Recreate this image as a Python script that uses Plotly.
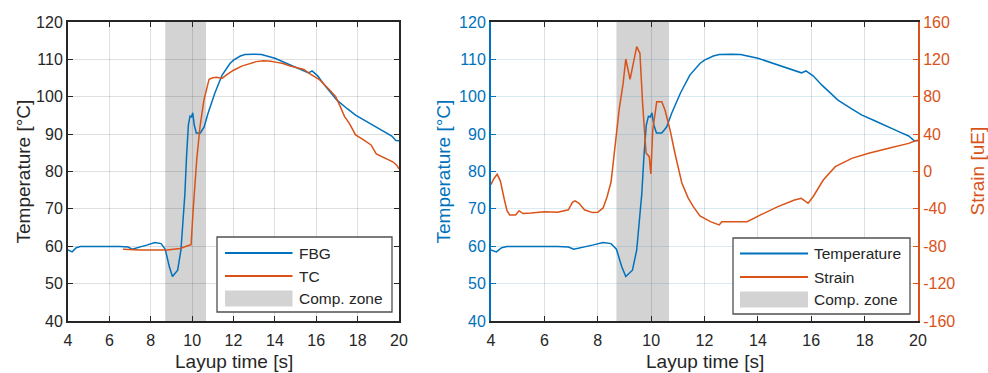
import plotly.graph_objects as go

# ---------------- data ----------------
fbg_time = [4.0, 4.2, 4.4, 4.6, 5.0, 5.5, 6.0, 6.5, 6.9, 7.1, 7.4, 7.8, 8.2, 8.5, 8.7,
            8.9, 9.05, 9.2, 9.3, 9.46, 9.56, 9.65, 9.73, 9.82, 9.9, 9.97, 10.03, 10.1,
            10.2, 10.4, 10.58, 10.77, 11.1, 11.45, 11.83, 12.0, 12.33, 12.55, 13.0,
            13.35, 14.0, 14.75, 15.3, 15.63, 15.8, 16.07, 16.4, 17.0, 17.5, 17.9, 18.4,
            18.9, 19.3, 19.65, 19.85, 20.0]
fbg_temp = [59.0, 58.5, 59.6, 59.9, 59.9, 60.0, 59.9, 59.9, 59.8, 59.2, 59.6, 60.3, 61.0, 60.7, 59.2,
            54.5, 51.9, 52.8, 53.6, 59.0, 66.0, 74.0, 84.0, 92.5, 94.8, 94.6, 95.7, 92.5,
            90.3, 90.3, 91.9, 95.6, 101.0, 105.8, 108.9, 109.8, 110.9, 111.3, 111.4,
            111.3, 110.3, 108.5, 107.1, 106.4, 106.9, 105.6, 103.1, 99.1, 96.8, 95.1, 93.5,
            92.0, 90.6, 89.5, 88.3, 88.2]

tc_time = [6.66, 7.5, 8.78, 9.42, 9.82, 9.95, 10.06, 10.22, 10.38, 10.57, 10.82, 11.0, 11.2,
           11.44, 11.7, 12.0, 12.4, 12.8, 13.1, 13.45, 13.8, 14.1, 14.4, 14.7, 15.0, 15.4,
           15.7, 16.17, 16.65, 16.94, 17.15, 17.37, 17.6, 17.9, 18.25, 18.65, 18.9, 19.38,
           19.7, 19.9, 20.0]
tc_temp = [59.2, 59.0, 59.0, 59.4, 60.2, 60.4, 70.6, 83.0, 92.0, 99.1, 104.7, 105.1, 105.2,
           104.9, 106.0, 107.1, 108.2, 108.9, 109.4, 109.6, 109.5, 109.2, 108.9, 108.3, 107.9, 107.3,
           106.1, 104.5, 101.8, 100.0, 97.5, 94.7, 92.9, 89.8, 88.6, 87.1, 84.7, 83.5,
           82.6, 81.6, 80.7]

strain_time = [4.0, 4.1, 4.23, 4.35, 4.5, 4.6, 4.7, 4.92, 5.05, 5.2, 5.5, 6.0, 6.5, 6.9, 7.05,
               7.15, 7.3, 7.5, 7.8, 8.0, 8.2, 8.35, 8.5, 8.65, 8.8, 8.95, 9.05, 9.21, 9.3,
               9.46, 9.58, 9.68, 9.81, 9.93, 9.99, 10.06, 10.21, 10.4, 10.52, 10.71, 10.89,
               11.15, 11.39, 11.58, 11.83, 12.22, 12.55, 12.65, 13.23, 13.6, 14.1, 14.75,
               15.37, 15.63, 15.88, 16.07, 16.45, 16.9, 17.52, 18.15, 18.9, 19.65, 20.0]
strain_ue = [-14, -8, -3, -10, -30, -42, -46.5, -46.5, -42, -45, -44.5, -43, -43.7, -41, -33,
             -31.5, -34, -41, -44, -43.7, -39, -27, -11, 26.6, 66, 94, 120.4, 98.7, 110,
             133.6, 126.5, 73.3, 19.8, 15.9, -2.7, 44.4, 74.7, 74.7, 65.8, 44.4, 19.8,
             -12.3, -28.4, -37.6, -47.6, -53.7, -57.2, -53.7, -53.7, -53.7, -46.5, -37.6,
             -30.5, -28.7, -34, -27, -9.1, 5.2, 14.1, 19.5, 24.8, 30.1, 33.7]

zone_start = 8.7
zone_end = 10.67

x_ticks = [4, 6, 8, 10, 12, 14, 16, 18, 20]
temp_ticks = [40, 50, 60, 70, 80, 90, 100, 110, 120]
strain_ticks = [-160, -120, -80, -40, 0, 40, 80, 120, 160]
strain_tick_labels = ["-160", "-120", "-80", "-40", "0", "40", "80", "120", "160"]

left_legend_labels = ["FBG", "TC", "Comp. zone"]
right_legend_labels = ["Temperature", "Strain", "Comp. zone"]

# ---------------- style ----------------
W, H = 988, 373
BLUE = "#0072BD"
ORANGE = "#D95319"
DARK = "#262626"
ZONE = "#D3D3D3"
FONT = "Arial, Liberation Sans, sans-serif"
TICK_SIZE = 16
TITLE_SIZE = 19
LEG_SIZE = 15.5


def px(x):
    return x / W


def py(y):
    return 1 - y / H


L_DOM = [px(68), px(399)]
R_DOM = [px(491), px(918)]
Y_DOM = [py(321), py(22)]

fig = go.Figure()

fig.add_trace(go.Scatter(x=fbg_time, y=fbg_temp, mode="lines", line=dict(color=BLUE, width=1.5),
                         xaxis="x", yaxis="y", showlegend=False))
fig.add_trace(go.Scatter(x=tc_time, y=tc_temp, mode="lines", line=dict(color=ORANGE, width=1.5),
                         xaxis="x", yaxis="y", showlegend=False))
fig.add_trace(go.Scatter(x=fbg_time, y=fbg_temp, mode="lines", line=dict(color=BLUE, width=1.5),
                         xaxis="x2", yaxis="y2", showlegend=False))
fig.add_trace(go.Scatter(x=strain_time, y=strain_ue, mode="lines", line=dict(color=ORANGE, width=1.5),
                         xaxis="x2", yaxis="y3", showlegend=False))

# compression zones
for xr, yr in (("x", "y"), ("x2", "y2")):
    fig.add_shape(type="rect", xref=xr, yref=yr + " domain", x0=zone_start, x1=zone_end,
                  y0=0, y1=1, fillcolor=ZONE, line=dict(width=0), layer="below")

GRID_GRAY = "rgba(38,38,38,0.15)"
GRID_BLUE = "rgba(0,114,189,0.15)"

xcommon = dict(range=[4, 20], tickvals=x_ticks, ticks="inside", ticklen=5, tickwidth=1.3,
               showline=True, linewidth=2, linecolor=DARK, tickcolor=DARK, mirror="ticks",
               showgrid=True, gridcolor=GRID_GRAY, gridwidth=1, zeroline=False,
               automargin=False,
               tickfont=dict(family=FONT, size=TICK_SIZE, color=DARK), ticklabelstandoff=4)

fig.update_layout(
    width=W, height=H, margin=dict(l=0, r=0, t=0, b=0),
    paper_bgcolor="white", plot_bgcolor="white",
    font=dict(family=FONT, color=DARK),
    xaxis=dict(domain=L_DOM, anchor="y", **xcommon),
    yaxis=dict(domain=Y_DOM, anchor="x", range=[40, 120], tickvals=temp_ticks,
               ticks="inside", ticklen=5, tickwidth=1.3, showline=True, linewidth=2,
               linecolor=DARK, tickcolor=DARK, mirror="ticks", showgrid=True,
               gridcolor=GRID_GRAY, zeroline=False, automargin=False,
               tickfont=dict(family=FONT, size=TICK_SIZE, color=DARK)),
    xaxis2=dict(domain=R_DOM, anchor="y2", **xcommon),
    yaxis2=dict(domain=Y_DOM, anchor="x2", range=[40, 120], tickvals=temp_ticks,
                ticks="inside", ticklen=5, tickwidth=1.3, showline=True, linewidth=2,
                linecolor=BLUE, tickcolor=BLUE, mirror=False, showgrid=True,
                gridcolor=GRID_BLUE, zeroline=False, automargin=False,
                tickfont=dict(family=FONT, size=TICK_SIZE, color=BLUE)),
    yaxis3=dict(overlaying="y2", anchor="x2", side="right", range=[-160, 160],
                tickvals=strain_ticks, ticktext=strain_tick_labels, ticks="inside",
                ticklen=5, tickwidth=1.3,
                showline=True, linewidth=2, linecolor=ORANGE, tickcolor=ORANGE,
                showgrid=False, zeroline=False, automargin=False,
                tickfont=dict(family=FONT, size=TICK_SIZE, color=ORANGE)),
)

# axis titles
ann = []
ann.append(dict(text="Layup time [s]", x=px(233.5), y=py(361), xref="paper", yref="paper",
                showarrow=False, xanchor="center", yanchor="middle",
                font=dict(family=FONT, size=TITLE_SIZE, color=DARK)))
ann.append(dict(text="Layup time [s]", x=px(704.5), y=py(361), xref="paper", yref="paper",
                showarrow=False, xanchor="center", yanchor="middle",
                font=dict(family=FONT, size=TITLE_SIZE, color=DARK)))
ann.append(dict(text="Temperature [°C]", x=px(23), y=py(171.5), xref="paper", yref="paper",
                showarrow=False, xanchor="center", yanchor="middle", textangle=-90,
                font=dict(family=FONT, size=TITLE_SIZE, color=DARK)))
ann.append(dict(text="Temperature [°C]", x=px(443), y=py(171.5), xref="paper", yref="paper",
                showarrow=False, xanchor="center", yanchor="middle", textangle=-90,
                font=dict(family=FONT, size=TITLE_SIZE, color=BLUE)))
ann.append(dict(text="Strain [uE]", x=px(977), y=py(171.5), xref="paper", yref="paper",
                showarrow=False, xanchor="center", yanchor="middle", textangle=-90,
                font=dict(family=FONT, size=TITLE_SIZE, color=ORANGE)))


# manual legends (MATLAB-like)
def add_legend(box, sample_x, text_x, rows, labels):
    x0, y0, x1, y1 = box
    fig.add_shape(type="rect", xref="paper", yref="paper", x0=px(x0), x1=px(x1),
                  y0=py(y1), y1=py(y0), fillcolor="white",
                  line=dict(color="#505050", width=1.3), layer="above")
    colors = [BLUE, ORANGE]
    for i, lab in enumerate(labels):
        yy = rows[i]
        if i < 2:
            fig.add_shape(type="line", xref="paper", yref="paper", x0=px(sample_x[0]),
                          x1=px(sample_x[1]), y0=py(yy), y1=py(yy),
                          line=dict(color=colors[i], width=2), layer="above")
        else:
            fig.add_shape(type="rect", xref="paper", yref="paper", x0=px(sample_x[0]),
                          x1=px(sample_x[1]), y0=py(yy + 8), y1=py(yy - 8),
                          fillcolor=ZONE, line=dict(width=0), layer="above")
        ann.append(dict(text=lab, x=px(text_x), y=py(yy), xref="paper", yref="paper",
                        showarrow=False, xanchor="left", yanchor="middle",
                        font=dict(family=FONT, size=LEG_SIZE, color=DARK)))


add_legend((217, 237, 392, 312), (225, 292.5), 297, (253, 276, 298.5), left_legend_labels)
add_legend((733, 238, 910, 314), (740, 808), 812, (253.5, 277, 299.5), right_legend_labels)

fig.update_layout(annotations=ann)

fig.write_html("out.html", config={"displayModeBar": False},
               post_script="document.body.style.margin='0';document.body.style.padding='0';"
                           "document.body.style.overflow='hidden';")
